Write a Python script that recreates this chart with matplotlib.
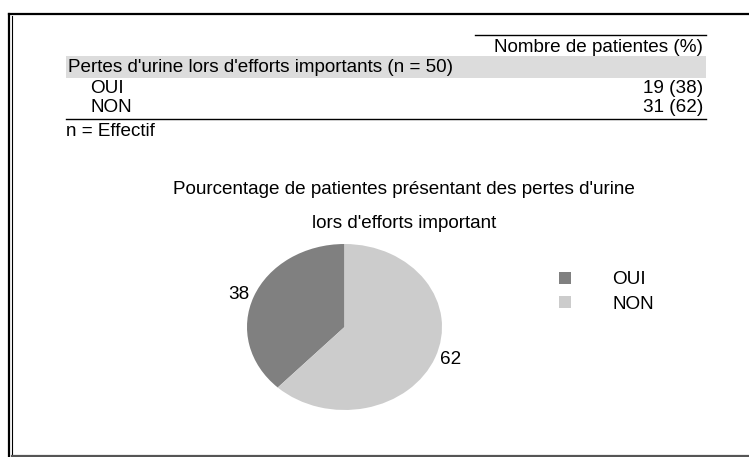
import matplotlib.pyplot as plt
from matplotlib.lines import Line2D
from matplotlib.patches import Rectangle, Patch

plt.rcParams['font.family'] = ['Liberation Sans', 'DejaVu Sans']

# data
categories = ["OUI", "NON"]
counts = [19, 31]
percents = [38, 62]
total_n = 50
colors = ["#808080", "#cccccc"]

header = "Nombre de patientes (%)"
group_label = "Pertes d'urine lors d'efforts importants (n = %d)" % total_n
footnote = "n = Effectif"
title_lines = ["Pourcentage de patientes présentant des pertes d'urine",
               "lors d'efforts important"]

W, H = 749, 457
FS = 13.6

fig = plt.figure(figsize=(W / 100, H / 100), dpi=100)

# background axes in pixel coords for the table and the frame
bg = fig.add_axes([0, 0, 1, 1])
bg.set_xlim(0, W)
bg.set_ylim(H, 0)
bg.axis("off")

# frame
bg.add_line(Line2D([9, 9], [14, 456], color="black", lw=1.6))
bg.add_line(Line2D([12, 12], [16, 456], color="black", lw=0.8))
bg.add_line(Line2D([9, W], [14, 14], color="black", lw=1.6))
bg.add_line(Line2D([12, W], [456, 456], color="#555555", lw=1.6))

# table
left, right = 66, 706
bg.add_line(Line2D([475, right], [35, 35], color="black", lw=1))
bg.text(right - 3, 47, header, ha="right", va="center", fontsize=FS)
bg.add_patch(Rectangle((left, 56), right - left, 22, color="#dcdcdc", lw=0))
bg.text(left + 2, 67, group_label, ha="left", va="center", fontsize=FS)
row_y = 88.5
for cat, c, p in zip(categories, counts, percents):
    bg.text(left + 24, row_y, cat, ha="left", va="center", fontsize=FS)
    bg.text(right - 3, row_y, "%d (%d)" % (c, p), ha="right", va="center", fontsize=FS)
    row_y += 19.5
bg.add_line(Line2D([left, right], [119, 119], color="black", lw=1))
bg.text(left, 131, footnote, ha="left", va="center", fontsize=FS)

# chart title
bg.text(404, 189, title_lines[0], ha="center", va="center", fontsize=FS)
bg.text(404, 224, title_lines[1], ha="center", va="center", fontsize=FS)

# pie
ax = fig.add_axes([247 / W, 47 / H, 195 / W, 166 / H])
ax.pie(percents, labels=[str(p) for p in percents], colors=colors,
       startangle=90, counterclock=True, labeldistance=1.05,
       textprops={"fontsize": FS})
ax.set_aspect("auto")
ax.set_xlim(-1, 1)
ax.set_ylim(-1, 1)

handles = [Patch(facecolor=col, edgecolor="none") for col in colors]
fig.legend(handles, categories, loc="upper left",
           bbox_to_anchor=(550 / W, 1 - 262 / H), frameon=False,
           fontsize=FS, handlelength=0.6, handleheight=0.6,
           handletextpad=2.2, labelspacing=0.4, borderpad=0)

fig.savefig("out.png", dpi=100)
